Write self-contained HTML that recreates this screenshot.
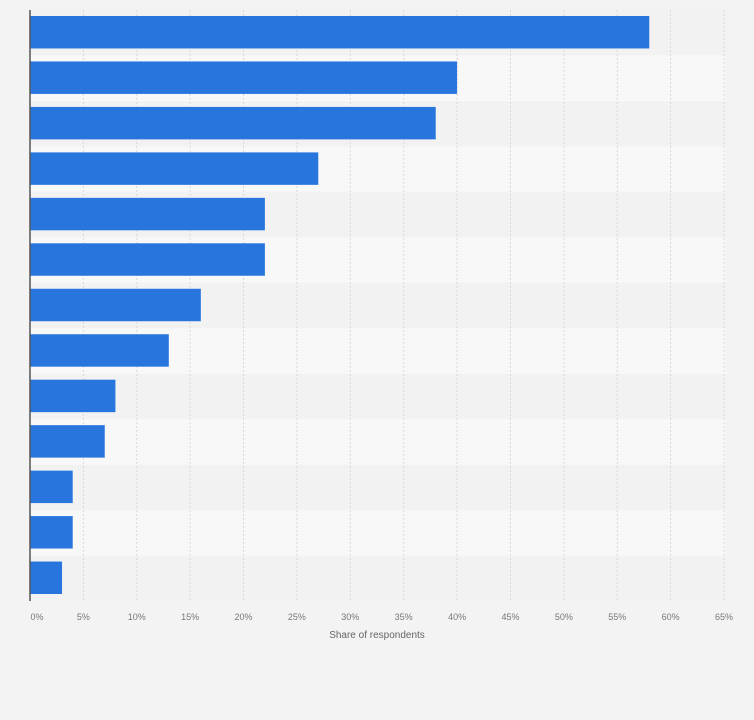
<!DOCTYPE html>
<html><head><meta charset="utf-8"><style>
html,body{margin:0;padding:0;background:#f3f3f3;}
svg{display:block;font-family:"Liberation Sans",sans-serif;}
</style></head><body>
<svg id="chart" width="754" height="720" viewBox="0 0 754 720">
<rect x="0" y="0" width="754" height="720" fill="#f3f3f3"/>
<g id="stripes"></g><g id="grid"></g><g id="bars"></g><g id="ticks"></g>
<line x1="30" y1="10" x2="30" y2="601" stroke="#555" stroke-width="1.5"/>
<text x="377" y="638" font-size="10" fill="#666" text-anchor="middle">Share of respondents</text>
</svg>
<script>
const categories = ["c1","c2","c3","c4","c5","c6","c7","c8","c9","c10","c11","c12","c13"];
const values = [58,40,38,27,22,22,16,13,8,7,4,4,3];
const tickValues = [0,5,10,15,20,25,30,35,40,45,50,55,60,65];
const tickLabels = ["0%","5%","10%","15%","20%","25%","30%","35%","40%","45%","50%","55%","60%","65%"];
{
const NS="http://www.w3.org/2000/svg";
const x0=30,x1=724,yTop=10,yBottom=601,xMax=65;
const rowH=(yBottom-yTop)/categories.length;
const xs=v=>x0+(v/xMax)*(x1-x0);
const ys=i=>yTop+i*rowH;
function mk(t,a,p){const e=document.createElementNS(NS,t);for(const k in a)e.setAttribute(k,a[k]);p.appendChild(e);return e;}
const st=document.getElementById('stripes'),gr=document.getElementById('grid'),br=document.getElementById('bars'),tk=document.getElementById('ticks');
categories.forEach((c,i)=>{
  const r=mk('rect',{x:x0,y:ys(i),width:x1-x0+2,height:rowH,fill:i%2?'#f8f8f8':'#f2f2f2'},st);
  
  
});
tickValues.forEach((v,i)=>{
  if(v>0){const l=mk('line',{x1:xs(v),y1:yTop,x2:xs(v),y2:yBottom,stroke:'#d8d8d8','stroke-dasharray':'2,2'},gr);
  
  }
  const t=mk('text',{x:xs(v)+(v===0?7:0),y:620,'font-size':'9','fill':'#777','text-anchor':'middle'},tk);
  t.textContent=tickLabels[i];
  
  
});
values.forEach((v,i)=>{
  const b=mk('rect',{x:x0,y:ys(i)+6,width:xs(v)-x0,height:rowH-13,fill:'#2876dd'},br);
  
  
});
}
</script>
</body></html>
